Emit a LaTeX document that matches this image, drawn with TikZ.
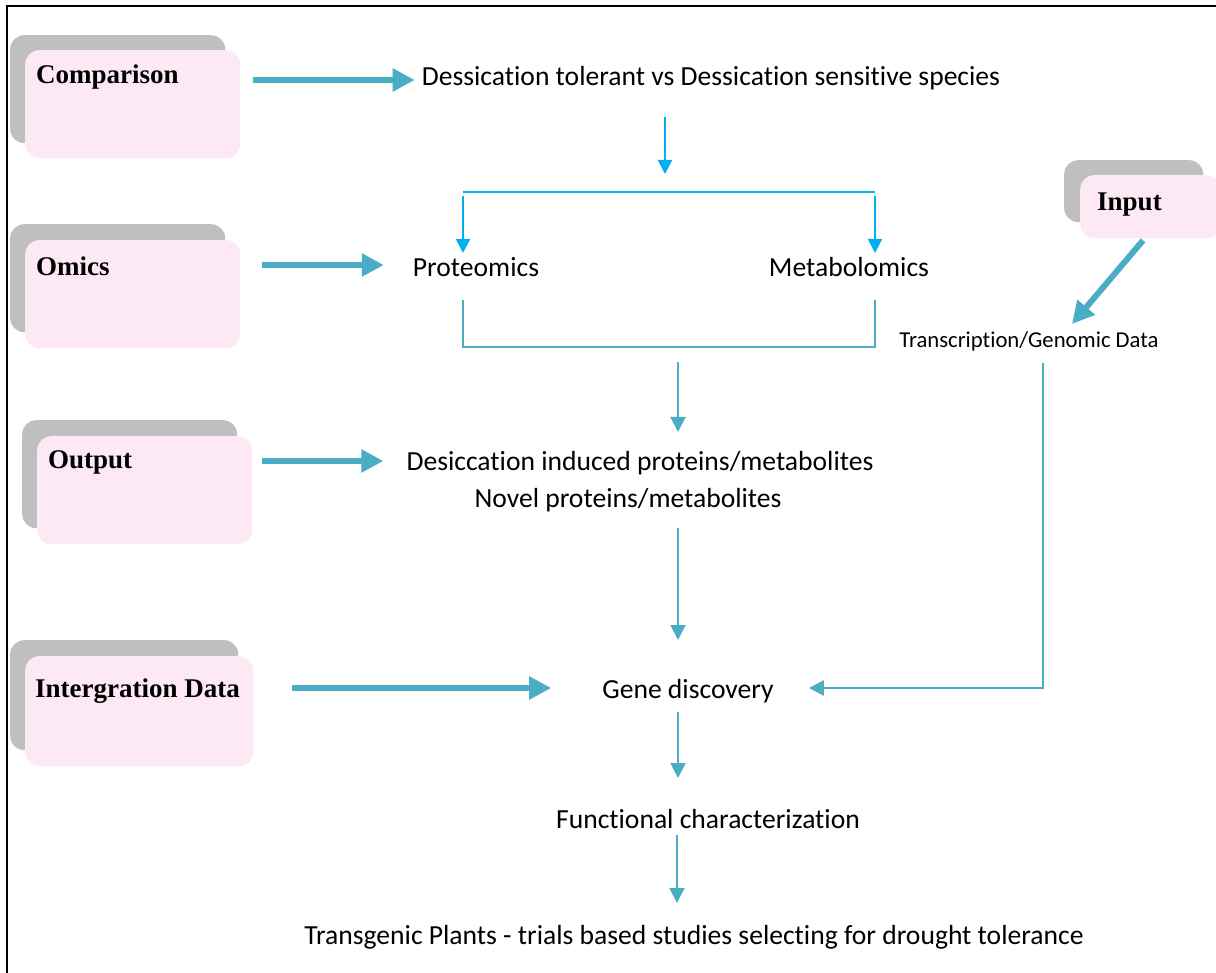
\documentclass[tikz,border=0pt]{standalone}
\usepackage{fontspec}
\setmainfont{Carlito}[Ligatures={NoCommon}]
\newfontfamily\labelfont{Liberation Serif}
\usetikzlibrary{arrows.meta,calc}

\definecolor{boxpink}{HTML}{FDE9F4}
\definecolor{boxgray}{HTML}{BFBFBF}
\definecolor{flowteal}{HTML}{4BACC6}
\definecolor{flowblue}{HTML}{00B0F0}

\tikzset{
  shadowbox/.style={fill=boxgray, rounded corners=14pt, anchor=north west, inner sep=0pt},
  pinkbox/.style={fill=boxpink, rounded corners=14pt, anchor=north west, inner sep=0pt},
  tag/.style={font=\labelfont\bfseries\fontsize{27}{31}\selectfont, anchor=west, inner sep=0pt},
  txt/.style={font=\fontsize{27.6}{32}\selectfont, inner sep=0pt},
  smalltxt/.style={font=\fontsize{22.7}{26}\selectfont, inner sep=0pt},
  bigarrow/.style={draw=flowteal, line width=6pt, -{Triangle[width=22pt,length=22pt]}},
  bluearrow/.style={draw=flowblue, line width=2pt, -{Triangle[width=14pt,length=14pt]}},
  bluewire/.style={draw=flowblue, line width=2pt},
  tealarrow/.style={draw=flowteal, line width=2pt, -{Triangle[width=15pt,length=15pt]}},
  tealwire/.style={draw=flowteal, line width=2pt},
}

\begin{document}
\begin{tikzpicture}[x=1pt,y=-1pt]
\useasboundingbox (0,0) rectangle (1216,973);
\clip (0,0) rectangle (1216,973);

% frame
\draw[line width=2.5pt] (7,990) -- (7,6) -- (1230,6);

% category boxes on the left
\node[shadowbox, minimum width=215pt, minimum height=108pt] (cmpshadow) at (10,35) {};
\node[pinkbox, minimum width=215pt, minimum height=108pt] (cmpbox) at (25,50) {};
\node[tag] (cmptag) at (36,77) {Comparison};

\node[shadowbox, minimum width=215pt, minimum height=108pt] (omshadow) at (10,224) {};
\node[pinkbox, minimum width=215pt, minimum height=108pt] (ombox) at (25,240) {};
\node[tag] (omtag) at (36,266) {Omics};

\node[shadowbox, minimum width=215pt, minimum height=108pt] (outshadow) at (22,420) {};
\node[pinkbox, minimum width=215pt, minimum height=108pt] (outbox) at (37,436) {};
\node[tag] (outtag) at (48,462) {Output};

\node[shadowbox, minimum width=228pt, minimum height=110pt] (intshadow) at (10,640) {};
\node[pinkbox, minimum width=228pt, minimum height=110pt] (intbox) at (25,656) {};
\node[tag] (inttag) at (35,691) {Intergration Data};

% input box on the right
\node[shadowbox, minimum width=139pt, minimum height=62pt] (inshadow) at (1064,160) {};
\node[pinkbox, minimum width=140pt, minimum height=63pt] (inbox) at (1080,175) {};
\node[tag] (intag) at (1097,205) {Input};

% flow texts
\node[txt] (species) at (711,78) {Dessication tolerant vs Dessication sensitive species};
\node[txt] (prot) at (476,267) {Proteomics};
\node[txt] (meta) at (849,267) {Metabolomics};
\node[smalltxt] (trans) at (1029,341) {Transcription/Genomic Data};
\node[txt] (induced) at (640,463) {Desiccation induced proteins/metabolites};
\node[txt] (novel) at (628,500) {Novel proteins/metabolites};
\node[txt] (gene) at (688,691) {Gene discovery};
\node[txt] (func) at (708,819) {Functional characterization};
\node[txt] (plants) at (694,937) {Transgenic Plants - trials based studies selecting for drought tolerance};

% junction points
\coordinate (split) at (665,192);
\coordinate (splitL) at (463,192);
\coordinate (splitR) at (875,192);
\coordinate (joinL) at (463,347);
\coordinate (joinR) at (875,347);
\coordinate (joinM) at (678,347);
\coordinate (corner) at (1043,688);

% thick arrows from the categories
\draw[bigarrow] (cmpbox.east |- 0,80) ++(13,0) -- ($(species.west |- 0,80)+(-7,0)$);
\draw[bigarrow] (ombox.east |- 0,265) ++(22,0) -- ($(prot.west |- 0,265)+(-29,0)$);
\draw[bigarrow] (outbox.east |- 0,461) ++(10,0) -- ($(induced.west |- 0,461)+(-23,0)$);
\draw[bigarrow] (intbox.east |- 0,688) ++(39,0) -- ($(gene.west |- 0,688)+(-51,0)$);
\draw[bigarrow] ($(inbox.south west)+(63,2)$) -- ($(trans.center)+(43,-17)$);

% split towards the two omics
\draw[bluearrow] ($(species.center)+(-46,39)$) -- ($(split)+(0,-18)$);
\draw[bluewire] (splitL) -- (splitR);
\draw[bluearrow] ($(splitL)+(0,4)$) -- ($(prot.center -| splitL)+(0,-14)$);
\draw[bluearrow] ($(splitR)+(0,4)$) -- ($(meta.center -| splitR)+(0,-14)$);

% join of the omics results
\draw[tealwire] ($(prot.center -| joinL)+(0,33)$) -- (joinL) -- (joinR) -- ($(meta.center -| joinR)+(0,33)$);
\draw[tealarrow] ($(joinM)+(0,15)$) -- ($(induced.center -| joinM)+(0,-31)$);
\draw[tealarrow] ($(novel.center -| joinM)+(0,28)$) -- ($(gene.center -| joinM)+(0,-51)$);

% genomic data feeding gene discovery
\draw[tealarrow] ($(trans.center -| corner)+(0,22)$) -- (corner) -- ($(gene.east)+(35,-3)$);

% downstream steps
\draw[tealarrow] ($(gene.center -| joinM)+(0,21)$) -- ($(func.center -| joinM)+(0,-41)$);
\draw[tealarrow] ($(func.center -| 677,0)+(0,16)$) -- ($(plants.center -| 677,0)+(0,-34)$);
\end{tikzpicture}
\end{document}
